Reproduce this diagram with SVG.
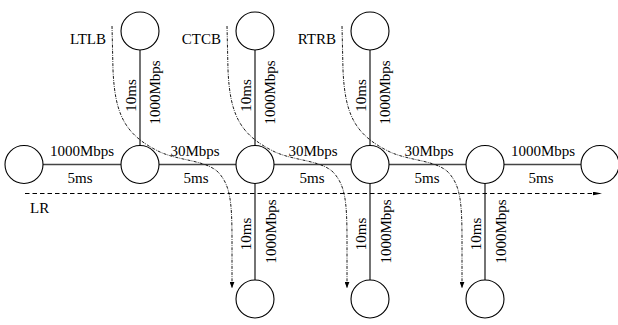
<svg xmlns="http://www.w3.org/2000/svg" width="618" height="325" viewBox="0 0 618 325">
<defs>
<style>
.n{fill:#fff;stroke:#000;stroke-width:1.1}
.h{stroke:#444;stroke-width:1.4;fill:none}
.v{stroke:#000;stroke-width:1.1;fill:none}
.t{font-family:"Liberation Serif","Times New Roman",serif;font-size:15px;fill:#000}
.m{text-anchor:middle}
.e{text-anchor:end}
.dd{stroke:#000;stroke-width:0.9;fill:none;stroke-dasharray:3 1.2 0.8 1.2;marker-end:url(#ah)}
.lr{stroke:#000;stroke-width:1;fill:none;stroke-dasharray:4.5 3;marker-end:url(#la)}
</style>
<marker id="ah" viewBox="0 0 10 8" refX="10" refY="4" markerWidth="6" markerHeight="5" markerUnits="userSpaceOnUse" orient="auto"><path d="M0,0 L10,4 L0,8 Z" fill="#000"/></marker>
<marker id="la" viewBox="0 0 10 4" refX="10" refY="2" markerWidth="9" markerHeight="4" markerUnits="userSpaceOnUse" orient="auto"><path d="M0,0 L10,2 L0,4 Z" fill="#000"/></marker>
</defs>
<g id="connectors">
<line class="h" x1="43" y1="164.5" x2="121" y2="164.5"/>
<line class="h" x1="159" y1="164.5" x2="236" y2="164.5"/>
<line class="h" x1="274" y1="164.5" x2="351" y2="164.5"/>
<line class="h" x1="389" y1="164.5" x2="466" y2="164.5"/>
<line class="h" x1="504" y1="164.5" x2="581" y2="164.5"/>
<line class="v" x1="140" y1="50" x2="140" y2="145.5"/>
<line class="v" x1="255" y1="50" x2="255" y2="145.5"/>
<line class="v" x1="370" y1="50" x2="370" y2="145.5"/>
<line class="v" x1="255" y1="183.5" x2="255" y2="280"/>
<line class="v" x1="370" y1="183.5" x2="370" y2="280"/>
<line class="v" x1="485" y1="183.5" x2="485" y2="280"/>
<path class="dd" d="M112,26 L113,70 C115,115 125,135 160,152 C180,161 205,160 218,172 C230,185 232,200 232,240 L232,288"/>
<path class="dd" d="M227,26 L228,70 C230,115 240,135 275,152 C295,161 320,160 333,172 C345,185 347,200 347,240 L347,288"/>
<path class="dd" d="M342,26 L343,70 C345,115 355,135 390,152 C410,161 435,160 448,172 C460,185 462,200 462,240 L462,288"/>
<line class="lr" x1="25" y1="193.5" x2="602" y2="193.5"/>
</g>
<g id="n1"><circle class="n" cx="24" cy="164.5" r="19"/></g>
<g id="n2"><circle class="n" cx="140" cy="164.5" r="19"/></g>
<g id="n3"><circle class="n" cx="255" cy="164.5" r="19"/></g>
<g id="n4"><circle class="n" cx="370" cy="164.5" r="19"/></g>
<g id="n5"><circle class="n" cx="485" cy="164.5" r="19"/></g>
<g id="n6"><circle class="n" cx="600" cy="164.5" r="19"/></g>
<g id="t1"><circle class="n" cx="140" cy="31" r="19"/></g>
<g id="t2"><circle class="n" cx="255" cy="31" r="19"/></g>
<g id="t3"><circle class="n" cx="370" cy="31" r="19"/></g>
<g id="b1"><circle class="n" cx="255" cy="299" r="19"/></g>
<g id="b2"><circle class="n" cx="370" cy="299" r="19"/></g>
<g id="b3"><circle class="n" cx="485" cy="299" r="19"/></g>
<g id="labels">
<text class="t e" x="106" y="43.5">LTLB</text>
<text class="t e" x="221" y="43.5">CTCB</text>
<text class="t e" x="336" y="43.5">RTRB</text>
<text class="t" x="30" y="213">LR</text>
<text class="t m" x="82" y="156">1000Mbps</text>
<text class="t m" x="195" y="156">30Mbps</text>
<text class="t m" x="313" y="156">30Mbps</text>
<text class="t m" x="429" y="156">30Mbps</text>
<text class="t m" x="543" y="156">1000Mbps</text>
<text class="t m" x="80" y="183">5ms</text>
<text class="t m" x="196" y="183">5ms</text>
<text class="t m" x="312" y="183">5ms</text>
<text class="t m" x="427" y="183">5ms</text>
<text class="t m" x="541" y="183">5ms</text>
<text class="t m" transform="translate(136,95.5) rotate(-90)">10ms</text>
<text class="t m" transform="translate(159.5,92.5) rotate(-90)">1000Mbps</text>
<text class="t m" transform="translate(251,95.5) rotate(-90)">10ms</text>
<text class="t m" transform="translate(274.5,92.5) rotate(-90)">1000Mbps</text>
<text class="t m" transform="translate(366,95.5) rotate(-90)">10ms</text>
<text class="t m" transform="translate(389.5,92.5) rotate(-90)">1000Mbps</text>
<text class="t m" transform="translate(251,234) rotate(-90)">10ms</text>
<text class="t m" transform="translate(275.5,231.5) rotate(-90)">1000Mbps</text>
<text class="t m" transform="translate(366,234) rotate(-90)">10ms</text>
<text class="t m" transform="translate(390.5,231.5) rotate(-90)">1000Mbps</text>
<text class="t m" transform="translate(481,234) rotate(-90)">10ms</text>
<text class="t m" transform="translate(505.5,231.5) rotate(-90)">1000Mbps</text>
</g>
</svg>
